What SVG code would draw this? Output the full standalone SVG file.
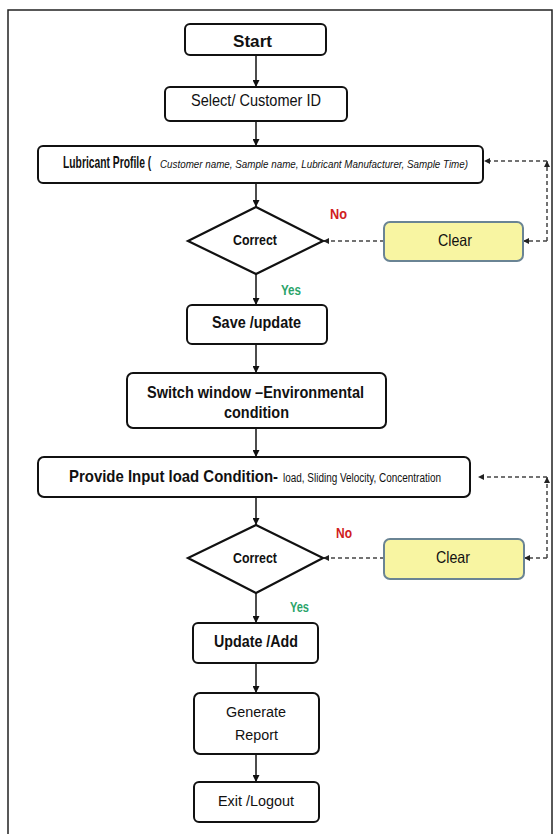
<svg xmlns="http://www.w3.org/2000/svg" width="560" height="834" viewBox="0 0 560 834">
  <defs>
    <marker id="ah" viewBox="0 0 10 10" refX="10" refY="5" markerWidth="7" markerHeight="7" markerUnits="userSpaceOnUse" orient="auto">
      <path d="M0,0 L10,5 L0,10 z" fill="#111"/>
    </marker>
    <marker id="dh" viewBox="0 0 10 10" refX="10" refY="5" markerWidth="6" markerHeight="6" markerUnits="userSpaceOnUse" orient="auto">
      <path d="M0,0 L10,5 L0,10 z" fill="#222"/>
    </marker>
    <style>
      .box { fill: #fff; stroke: #111; stroke-width: 2; }
      .clear { fill: #F8F5A2; stroke: #6A8494; stroke-width: 2; }
      .dia { fill: #fff; stroke: #111; stroke-width: 2.2; stroke-linejoin: miter; }
      .flow { stroke: #111; stroke-width: 1.5; fill: none; marker-end: url(#ah); }
      .dash { stroke: #444; stroke-width: 1.5; fill: none; stroke-dasharray: 4 3; marker-end: url(#dh); }
      text { font-family: "Liberation Sans", Arial, sans-serif; fill: #111; }
      .b { font-weight: bold; }
      .no { font-weight: bold; fill: #D0201E; font-size: 14px; }
      .yes { font-weight: bold; fill: #2AA46A; font-size: 14px; }
    </style>
  </defs>

  <!-- page frame -->
  <rect x="8" y="10" width="544" height="834" fill="none" stroke="#222" stroke-width="1.5"/>

  <!-- connectors -->
  <g id="connectors">
    <line class="flow" x1="256" y1="55" x2="256" y2="87"/>
    <line class="flow" x1="256" y1="121" x2="256" y2="146"/>
    <line class="flow" x1="256" y1="183" x2="256" y2="207"/>
    <line class="flow" x1="256" y1="274" x2="256" y2="305"/>
    <line class="flow" x1="256" y1="344" x2="256" y2="373"/>
    <line class="flow" x1="256" y1="428" x2="256" y2="457"/>
    <line class="flow" x1="256" y1="497" x2="256" y2="525"/>
    <line class="flow" x1="256" y1="593" x2="256" y2="623"/>
    <line class="flow" x1="256" y1="663" x2="256" y2="693"/>
    <line class="flow" x1="256" y1="754" x2="256" y2="782"/>

    <!-- first correction loop -->
    <line class="dash" x1="384" y1="241" x2="323" y2="241"/>
    <line class="dash" x1="547" y1="241" x2="523" y2="241"/>
    <line class="dash" x1="547" y1="241" x2="547" y2="161"/>
    <line class="dash" x1="547" y1="161" x2="484" y2="161"/>

    <!-- second correction loop -->
    <line class="dash" x1="384" y1="558" x2="323" y2="558"/>
    <line class="dash" x1="547" y1="558" x2="524" y2="558"/>
    <line class="dash" x1="547" y1="558" x2="547" y2="477"/>
    <line class="dash" x1="547" y1="477" x2="478" y2="477"/>

    <text class="no" x="330" y="219" textLength="17" lengthAdjust="spacingAndGlyphs">No</text>
    <text class="yes" x="281" y="295" textLength="20" lengthAdjust="spacingAndGlyphs">Yes</text>
    <text class="no" x="336" y="538" textLength="16" lengthAdjust="spacingAndGlyphs">No</text>
    <text class="yes" x="290" y="612" textLength="19" lengthAdjust="spacingAndGlyphs">Yes</text>
  </g>

  <g id="start">
    <rect class="box" x="185" y="24" width="141" height="31" rx="5"/>
    <text class="b" x="233" y="47" font-size="16" textLength="39" lengthAdjust="spacingAndGlyphs">Start</text>
  </g>

  <g id="select-customer">
    <rect class="box" x="165" y="87" width="182" height="34" rx="5"/>
    <text x="191" y="106" font-size="16.5" textLength="130" lengthAdjust="spacingAndGlyphs">Select/ Customer ID</text>
  </g>

  <g id="lubricant-profile">
    <rect class="box" x="38" y="146" width="445" height="37" rx="5"/>
    <!-- narrow bold heading: horizontally condensed -->
    <text class="b" transform="translate(63,168) scale(0.645,1)" font-size="16">Lubricant Profile (</text>
    <text x="160" y="168" font-size="11" font-style="italic" textLength="308" lengthAdjust="spacingAndGlyphs">Customer name, Sample name, Lubricant Manufacturer, Sample Time)</text>
  </g>

  <g id="correct-1">
    <polygon class="dia" points="256,207 323,241 256,274 188,241"/>
    <text class="b" x="233" y="245" font-size="15" textLength="44" lengthAdjust="spacingAndGlyphs">Correct</text>
  </g>

  <g id="clear-1">
    <rect class="clear" x="384" y="222" width="139" height="39" rx="6"/>
    <text x="438" y="246" font-size="16.5" textLength="34" lengthAdjust="spacingAndGlyphs">Clear</text>
  </g>

  <g id="save-update">
    <rect class="box" x="187" y="305" width="140" height="39" rx="5"/>
    <text class="b" x="212" y="328" font-size="16" textLength="89" lengthAdjust="spacingAndGlyphs">Save /update</text>
  </g>

  <g id="switch-window">
    <rect class="box" x="127" y="373" width="259" height="55" rx="6"/>
    <text class="b" x="147" y="398" font-size="16" textLength="217" lengthAdjust="spacingAndGlyphs">Switch window –Environmental</text>
    <text class="b" x="224" y="418" font-size="16" textLength="65" lengthAdjust="spacingAndGlyphs">condition</text>
  </g>

  <g id="input-load">
    <rect class="box" x="38" y="457" width="432" height="40" rx="6"/>
    <text class="b" x="69" y="482" font-size="16.5" textLength="209" lengthAdjust="spacingAndGlyphs">Provide Input load Condition-</text>
    <text x="283" y="482" font-size="12" textLength="158" lengthAdjust="spacingAndGlyphs">load, Sliding Velocity, Concentration</text>
  </g>

  <g id="correct-2">
    <polygon class="dia" points="256,525 323,558 256,593 188,558"/>
    <text class="b" x="233" y="563" font-size="15" textLength="44" lengthAdjust="spacingAndGlyphs">Correct</text>
  </g>

  <g id="clear-2">
    <rect class="clear" x="384" y="539" width="140" height="40" rx="6"/>
    <text x="436" y="563" font-size="16.5" textLength="34" lengthAdjust="spacingAndGlyphs">Clear</text>
  </g>

  <g id="update-add">
    <rect class="box" x="193" y="623" width="125" height="40" rx="5"/>
    <text class="b" x="214" y="647" font-size="16" textLength="84" lengthAdjust="spacingAndGlyphs">Update /Add</text>
  </g>

  <g id="generate-report">
    <rect class="box" x="194" y="693" width="125" height="61" rx="6"/>
    <text x="226" y="717" font-size="15.5" textLength="60" lengthAdjust="spacingAndGlyphs">Generate</text>
    <text x="235" y="740" font-size="15.5" textLength="43" lengthAdjust="spacingAndGlyphs">Report</text>
  </g>

  <g id="exit-logout">
    <rect class="box" x="194" y="782" width="125" height="40" rx="5"/>
    <text x="218" y="806" font-size="15.5" textLength="76" lengthAdjust="spacingAndGlyphs">Exit /Logout</text>
  </g>
</svg>
